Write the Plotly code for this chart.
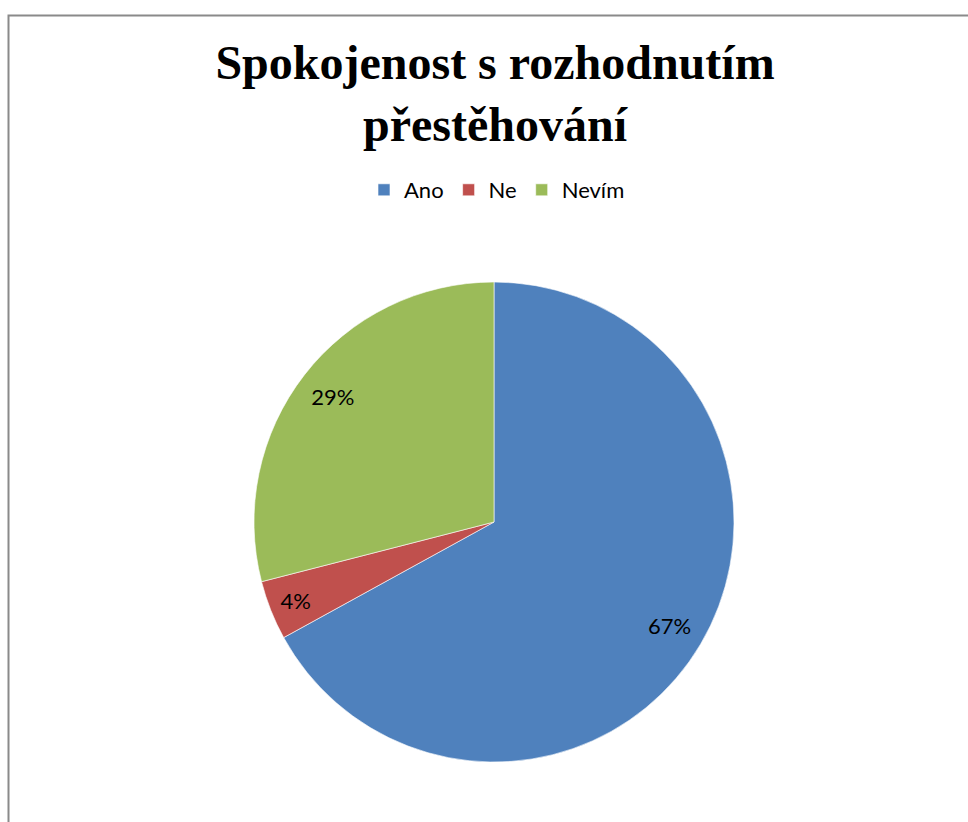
import plotly.graph_objects as go

categories = ["Ano", "Ne", "Nevím"]
values = [67, 4, 29]
colors = ["#4F81BD", "#C0504D", "#9BBB59"]

W, H = 968, 822
cx, cy, r = 494, 522, 240
dom = dict(x=[(cx - r) / W, (cx + r) / W], y=[1 - (cy + r) / H, 1 - (cy - r) / H])

# filled pie (no text)
fig = go.Figure(go.Pie(
    labels=categories,
    values=values,
    sort=False,
    direction="clockwise",
    rotation=0,
    marker=dict(colors=colors, line=dict(color="white", width=0.6)),
    textinfo="none",
    hoverinfo="skip",
    domain=dom,
))

# transparent ring carrying the percentage labels near the rim
fig.add_trace(go.Pie(
    labels=categories,
    values=values,
    sort=False,
    direction="clockwise",
    rotation=0,
    hole=0.7,
    marker=dict(colors=["rgba(0,0,0,0)"] * len(values), line=dict(width=0)),
    textinfo="percent",
    texttemplate="%{percent:.0%}",
    textposition="inside",
    insidetextorientation="horizontal",
    textfont=dict(family="Lato", size=22, color="black"),
    hoverinfo="skip",
    showlegend=False,
    domain=dom,
))

fig.update_layout(
    width=W, height=H,
    margin=dict(l=0, r=0, t=0, b=0),
    paper_bgcolor="white",
    plot_bgcolor="white",
    title=dict(
        text="<b>Spokojenost s rozhodnutím<br>přestěhování</b>",
        font=dict(family="Liberation Serif", size=48, color="black"),
        x=495 / W, xanchor="center",
        y=1 - 79 / H, yanchor="top", yref="container",
    ),
    legend=dict(
        orientation="h",
        x=497 / W, xanchor="center",
        y=1 - 190 / H, yanchor="middle",
        font=dict(family="Lato", size=22, color="black"),
        itemwidth=30,
    ),
    shapes=[dict(
        type="rect", xref="paper", yref="paper",
        x0=8.5 / W, x1=1.05, y0=-0.05, y1=1 - 15.5 / H,
        line=dict(color="#8a8a8a", width=2), fillcolor="rgba(0,0,0,0)",
    )],
)

fig.write_html(
    "out.html",
    config={"displayModeBar": False},
    post_script="document.body.style.margin='0';document.body.style.overflow='hidden';",
)
